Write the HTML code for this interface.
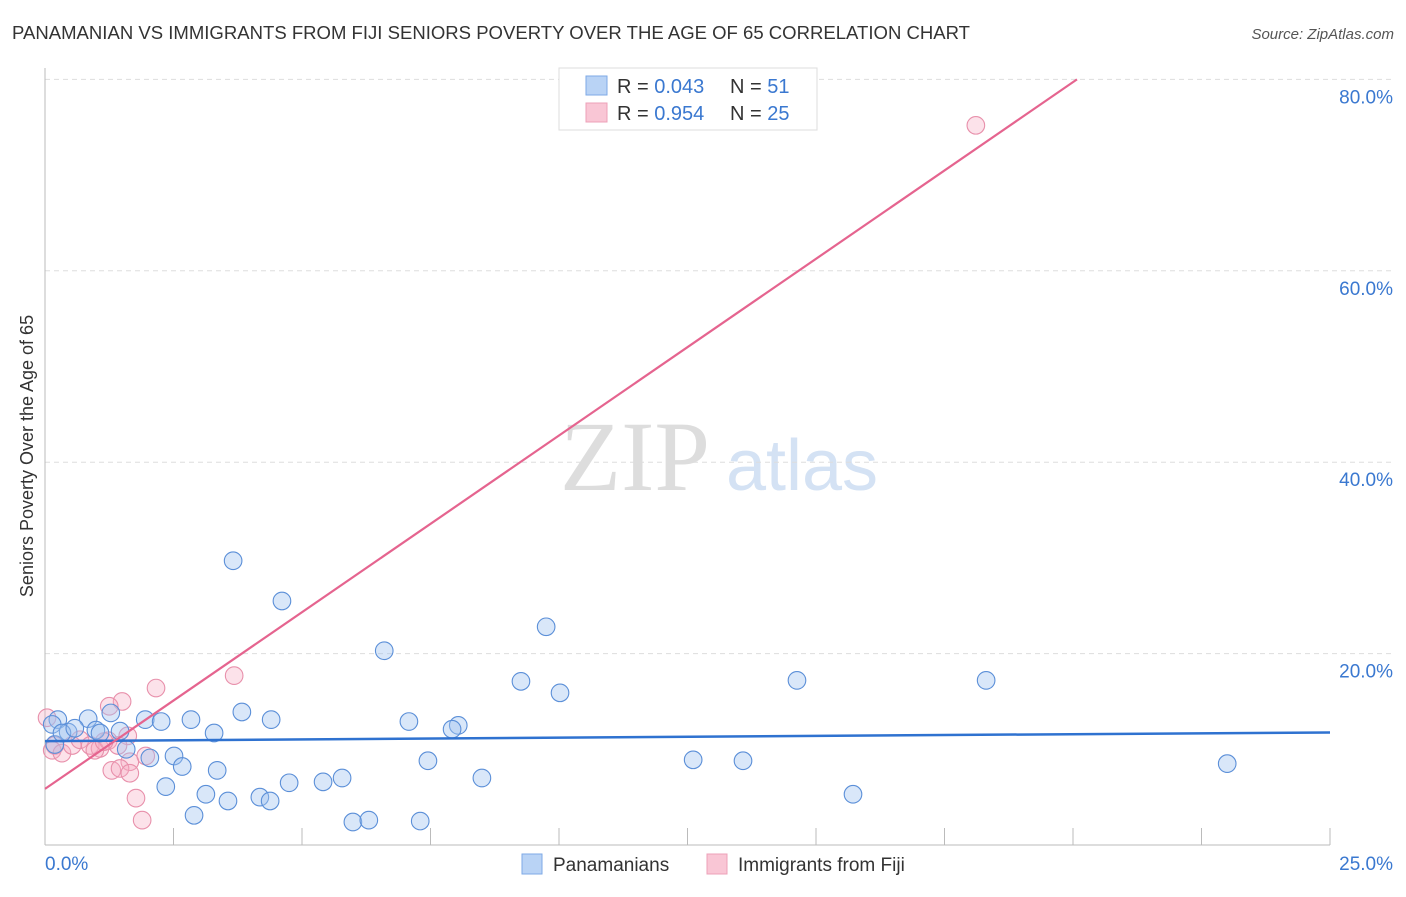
<!DOCTYPE html>
<html><head><meta charset="utf-8"><style>
body{margin:0;background:#fff;font-family:"Liberation Sans",sans-serif;}
</style></head><body>
<svg id="chart" width="1406" height="892" xmlns="http://www.w3.org/2000/svg" font-family="Liberation Sans, sans-serif">
<text x="12" y="39" font-size="18" fill="#333" textLength="958" lengthAdjust="spacingAndGlyphs">PANAMANIAN VS IMMIGRANTS FROM FIJI SENIORS POVERTY OVER THE AGE OF 65 CORRELATION CHART</text>
<text x="1394" y="39" font-size="15" fill="#555" text-anchor="end" font-style="italic">Source: ZipAtlas.com</text>
<text transform="translate(33,456) rotate(-90)" font-size="18" fill="#333" text-anchor="middle">Seniors Poverty Over the Age of 65</text>
<g>
<text x="635" y="490" font-size="100" fill="#ddd" text-anchor="middle" style="font-family:'Liberation Serif',serif">ZIP</text>
<text x="802" y="490" font-size="72" fill="#d4e2f4" text-anchor="middle">atlas</text>
</g>
<g id="grid"></g><g id="axes"></g><g id="pts"></g><g id="lines"></g>
<g>
<rect x="559" y="68" width="258" height="62" fill="#fff" stroke="#ddd"/>
<rect x="586" y="76" width="21" height="19" fill="#b9d3f5" stroke="#7eaae6"/>
<rect x="586" y="103" width="21" height="19" fill="#f9c6d5" stroke="#eda0b8"/>
<text x="617" y="93" font-size="20" fill="#333">R = <tspan fill="#3a78d0">0.043</tspan></text>
<text x="730" y="93" font-size="20" fill="#333">N = <tspan fill="#3a78d0"> 51</tspan></text>
<text x="617" y="120" font-size="20" fill="#333">R = <tspan fill="#3a78d0">0.954</tspan></text>
<text x="730" y="120" font-size="20" fill="#333">N = <tspan fill="#3a78d0">25</tspan></text>
</g>
<g>
<rect x="522" y="854" width="20" height="20" fill="#b9d3f5" stroke="#7eaae6"/>
<text x="553" y="871" font-size="19" fill="#333">Panamanians</text>
<rect x="707" y="854" width="20" height="20" fill="#f9c6d5" stroke="#eda0b8"/>
<text x="738" y="871" font-size="19" fill="#333">Immigrants from Fiji</text>
</g>
</svg>
<script>
const blueX=[3.66,4.61,9.75,6.60,9.26,10.02,14.63,18.31,3.83,1.28,1.95,2.26,2.84,4.40,7.08,8.04,7.92,3.29,0.25,0.84,0.99,0.45,1.46,0.14,1.58,2.04,2.51,2.67,3.35,2.35,3.13,3.56,4.18,4.38,4.75,5.41,5.78,7.45,8.50,12.61,13.58,23.0,15.72,2.90,5.99,6.30,7.30,0.19,0.33,1.07,0.58];
const blueY=[29.7,25.5,22.8,20.3,17.1,15.9,17.2,17.2,13.9,13.8,13.1,12.9,13.1,13.1,12.9,12.5,12.1,11.7,13.1,13.2,12.0,11.8,11.9,12.6,10.0,9.1,9.3,8.2,7.8,6.1,5.3,4.6,5.0,4.6,6.5,6.6,7.0,8.8,7.0,8.9,8.8,8.5,5.3,3.1,2.4,2.6,2.5,10.5,11.7,11.7,12.2];
const pinkX=[18.11,3.68,2.16,1.50,1.25,0.04,0.19,0.14,0.33,0.53,0.68,0.88,1.07,0.97,1.23,1.61,1.42,1.96,1.65,1.30,1.46,1.65,1.77,1.89,1.15];
const pinkY=[75.2,17.7,16.4,15.0,14.5,13.3,10.4,9.9,9.6,10.4,11.0,10.4,10.1,9.9,10.9,11.4,10.4,9.3,8.7,7.8,8.0,7.5,4.9,2.6,10.8];
const yTicks=[20,40,60,80];
const xTickLabels=["0.0%","25.0%"];
const NS="http://www.w3.org/2000/svg";
const X=v=>45+v*51.4, Y=v=>845-v*9.57;
function mk(tag,attrs,parent){const e=document.createElementNS(NS,tag);for(const k in attrs)e.setAttribute(k,attrs[k]);document.getElementById(parent).appendChild(e);return e;}
yTicks.forEach(t=>{
  const l=mk('line',{x1:45,x2:1394,y1:Y(t),y2:Y(t),stroke:'#ddd','stroke-dasharray':'5,4'},'grid');
  
  
  const tx=mk('text',{x:1393,y:Y(t)+24,'font-size':19,fill:'#3a78d0','text-anchor':'end'},'grid');
  tx.textContent=t.toFixed(1)+'%';
  
  
});
const ax=mk('line',{x1:45,x2:45,y1:68,y2:845,stroke:'#bbb'},'axes');


const bx=mk('line',{x1:45,x2:1330,y1:845,y2:845,stroke:'#bbb'},'axes');


for(let i=1;i<=10;i++){const t=mk('line',{x1:X(i*2.5),x2:X(i*2.5),y1:828,y2:845,stroke:'#bbb'},'axes');
  
  }
const xl0=mk('text',{x:45,y:870,'font-size':19,fill:'#3a78d0'},'axes');xl0.textContent=xTickLabels[0];


const xl1=mk('text',{x:1393,y:870,'font-size':19,fill:'#3a78d0','text-anchor':'end'},'axes');xl1.textContent=xTickLabels[1];


function pts(xs,ys,fill,stroke,name){xs.forEach((x,i)=>{const c=mk('circle',{cx:X(x),cy:Y(ys[i]),r:8.8,fill:fill,stroke:stroke,'stroke-width':1.1},'pts');
  
  });}
pts(pinkX,pinkY,'rgba(246,172,195,0.35)','#e890ab','fiji-point');
pts(blueX,blueY,'rgba(160,196,240,0.4)','#5b8fd8','panamanian-point');
function reg(xs,ys){const n=xs.length;let mx=0,my=0;xs.forEach((x,i)=>{mx+=x;my+=ys[i]});mx/=n;my/=n;let sxy=0,sxx=0;xs.forEach((x,i)=>{sxy+=(x-mx)*(ys[i]-my);sxx+=(x-mx)**2});const b=sxy/sxx;return [my-b*mx,b];}
const [ba,bb]=reg(blueX,blueY);
const bl=mk('line',{x1:X(0),y1:Y(ba),x2:X(25),y2:Y(ba+bb*25),stroke:'#2f72d0','stroke-width':2.5},'lines');


const [pa,pb]=reg(pinkX,pinkY);
let xe=Math.min(25,(80-pa)/pb);
const pl=mk('line',{x1:X(0),y1:Y(pa),x2:X(xe),y2:Y(pa+pb*xe),stroke:'#e5648f','stroke-width':2.2},'lines');


</script>
</body></html>
